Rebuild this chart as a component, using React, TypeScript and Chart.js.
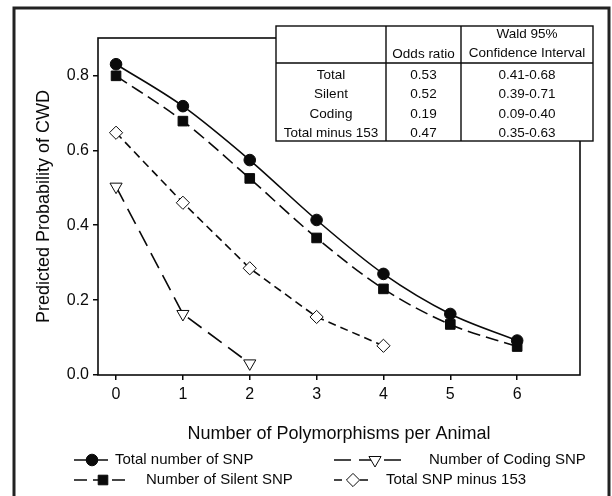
import React, { useEffect, useRef } from 'react';
import { Chart, registerables } from 'chart.js';

Chart.register(...registerables);

// ---- data ----
const xCategories = [0, 1, 2, 3, 4, 5, 6];
const totalSNP = [0.83, 0.718, 0.574, 0.414, 0.27, 0.163, 0.092];
const silentSNP = [0.799, 0.678, 0.525, 0.366, 0.23, 0.135, 0.076];
const totalMinus153 = [0.647, 0.46, 0.285, 0.155, 0.078];
const codingSNP = [0.503, 0.163, 0.031];

const xTickValues = [0, 1, 2, 3, 4, 5, 6];
const yTickValues = [0, 0.2, 0.4, 0.6, 0.8];

const seriesLabels = [
  'Total number of SNP',
  'Number of Silent SNP',
  'Total SNP minus 153',
  'Number of Coding SNP',
];

const tableRowLabels = ['Total', 'Silent', 'Coding', 'Total minus 153'];
const tableOddsRatios = ['0.53', '0.52', '0.19', '0.47'];
const tableIntervals = ['0.41-0.68', '0.39-0.71', '0.09-0.40', '0.35-0.63'];
const tableHeaderOdds = 'Odds ratio';
const tableHeaderWald = ['Wald 95%', 'Confidence Interval'];

const xTitle = 'Number of Polymorphisms per Animal';
const yTitle = 'Predicted Probability of CWD';

// ---- style ----
const FONT = '"Liberation Sans", Arial, Helvetica, sans-serif';
const INK = '#0a0a0a';

const toPoints = (vals: number[]) => vals.map((y, i) => ({ x: xCategories[i], y }));

function drawMarker(ctx: CanvasRenderingContext2D, shape: string, x: number, y: number, r: number, fill: string) {
  ctx.save();
  ctx.setLineDash([]);
  ctx.beginPath();
  if (shape === 'circle') {
    ctx.arc(x, y, r, 0, Math.PI * 2);
  } else if (shape === 'rect') {
    const s = Math.SQRT1_2 * r;
    ctx.rect(x - s, y - s, 2 * s, 2 * s);
  } else if (shape === 'rectRot') {
    ctx.moveTo(x - r, y);
    ctx.lineTo(x, y - r);
    ctx.lineTo(x + r, y);
    ctx.lineTo(x, y + r);
    ctx.closePath();
  } else if (shape === 'triangleDown') {
    const dx = Math.sin(Math.PI / 3) * r;
    ctx.moveTo(x - dx, y - r / 2);
    ctx.lineTo(x + dx, y - r / 2);
    ctx.lineTo(x, y + r);
    ctx.closePath();
  }
  ctx.fillStyle = fill;
  ctx.fill();
  ctx.lineWidth = 1;
  ctx.strokeStyle = INK;
  ctx.stroke();
  ctx.restore();
}

const decorPlugin = {
  id: 'decor',
  beforeDatasetsDraw(chart: any) {
    const { ctx, chartArea: a } = chart;
    ctx.save();
    ctx.strokeStyle = INK;
    ctx.lineWidth = 1.6;
    ctx.strokeRect(a.left, a.top, a.right - a.left, a.bottom - a.top);
    ctx.restore();
  },
  afterDraw(chart: any) {
    const { ctx } = chart;
    const ds = chart.data.datasets;
    ctx.save();

    // outer frame
    ctx.strokeStyle = '#222';
    ctx.lineWidth = 3;
    ctx.strokeRect(14, 8, 595, 500);

    // table
    const tl = 276, tr = 593, tt = 26, tb = 141;
    const c1 = 386, c2 = 461, hs = 63;
    ctx.fillStyle = '#fff';
    ctx.fillRect(tl, tt, tr - tl, tb - tt);
    ctx.strokeStyle = INK;
    ctx.lineWidth = 1.4;
    ctx.strokeRect(tl, tt, tr - tl, tb - tt);
    ctx.beginPath();
    ctx.moveTo(c1, tt); ctx.lineTo(c1, tb);
    ctx.moveTo(c2, tt); ctx.lineTo(c2, tb);
    ctx.moveTo(tl, hs); ctx.lineTo(tr, hs);
    ctx.stroke();

    ctx.fillStyle = INK;
    ctx.font = `13.5px ${FONT}`;
    ctx.textAlign = 'center';
    ctx.textBaseline = 'middle';
    ctx.fillText(tableHeaderOdds, (c1 + c2) / 2, 54);
    ctx.fillText(tableHeaderWald[0], (c2 + tr) / 2, 34);
    ctx.fillText(tableHeaderWald[1], (c2 + tr) / 2, 53);
    const rowYs = [75, 94.5, 114, 133];
    tableRowLabels.forEach((lab, i) => {
      ctx.fillText(lab, (tl + c1) / 2, rowYs[i]);
      ctx.fillText(tableOddsRatios[i], (c1 + c2) / 2, rowYs[i]);
      ctx.fillText(tableIntervals[i], (c2 + tr) / 2, rowYs[i]);
    });

    // legend
    const items = [
      { d: ds[0], shape: 'circle', x0: 74, x1: 108, mx: 92, y: 460, tx: 115, r: 5.8, fill: INK },
      { d: ds[1], shape: 'rect', x0: 74, x1: 126, mx: 103, y: 480, tx: 146, r: 6.8, fill: INK },
      { d: ds[2], shape: 'rectRot', x0: 334, x1: 370, mx: 353, y: 480, tx: 386, r: 6.6, fill: '#fff' },
      { d: ds[3], shape: 'triangleDown', x0: 334, x1: 402, mx: 375, y: 460, tx: 429, r: 7, fill: '#fff' },
    ];
    ctx.font = `15px ${FONT}`;
    ctx.textAlign = 'left';
    ctx.textBaseline = 'middle';
    items.forEach((it) => {
      ctx.save();
      ctx.strokeStyle = INK;
      ctx.lineWidth = 1.6;
      ctx.setLineDash(it.d.borderDash || []);
      ctx.beginPath();
      ctx.moveTo(it.x0, it.y);
      ctx.lineTo(it.x1, it.y);
      ctx.stroke();
      ctx.restore();
      drawMarker(ctx, it.shape, it.mx, it.y, it.r, it.fill);
      ctx.fillStyle = INK;
      ctx.fillText(it.d.label, it.tx, it.y);
    });

    ctx.restore();
  },
};

export default function App() {
  const canvasRef = useRef<HTMLCanvasElement | null>(null);

  useEffect(() => {
    if (!canvasRef.current) return;
    const chart = new Chart(canvasRef.current, {
      type: 'line',
      data: {
        datasets: [
          {
            label: seriesLabels[0],
            data: toPoints(totalSNP),
            borderColor: INK,
            borderWidth: 1.6,
            pointStyle: 'circle',
            pointRadius: 5.8,
            pointBackgroundColor: INK,
            pointBorderColor: INK,
            pointBorderWidth: 1,
            cubicInterpolationMode: 'monotone',
          },
          {
            label: seriesLabels[1],
            data: toPoints(silentSNP),
            borderColor: INK,
            borderWidth: 1.6,
            borderDash: [13, 6],
            pointStyle: 'rect',
            pointRadius: 6.8,
            pointBackgroundColor: INK,
            pointBorderColor: INK,
            pointBorderWidth: 1,
            cubicInterpolationMode: 'monotone',
          },
          {
            label: seriesLabels[2],
            data: toPoints(totalMinus153),
            borderColor: INK,
            borderWidth: 1.6,
            borderDash: [8, 5],
            pointStyle: 'rectRot',
            pointRadius: 6.6,
            pointBackgroundColor: '#fff',
            pointBorderColor: INK,
            pointBorderWidth: 1,
          },
          {
            label: seriesLabels[3],
            data: toPoints(codingSNP),
            borderColor: INK,
            borderWidth: 1.6,
            borderDash: [17, 8],
            pointStyle: 'triangle',
            pointRotation: 180,
            pointRadius: 7,
            pointBackgroundColor: '#fff',
            pointBorderColor: INK,
            pointBorderWidth: 1,
          },
        ],
      },
      options: {
        responsive: false,
        animation: false,
        events: [],
        layout: { padding: { left: 0, top: 38, right: 32, bottom: 51 } },
        plugins: {
          legend: { display: false },
          tooltip: { enabled: false },
        },
        scales: {
          x: {
            type: 'linear',
            min: -0.27,
            max: 6.94,
            afterBuildTicks: (s: any) => {
              s.ticks = xTickValues.map((v) => ({ value: v }));
            },
            afterFit: (s: any) => {
              s.height = 70;
            },
            border: { display: false },
            grid: { drawOnChartArea: false, drawTicks: true, tickLength: 5, color: INK, lineWidth: 1.5 },
            ticks: {
              font: { family: FONT, size: 16 },
              color: INK,
              padding: 5,
              maxRotation: 0,
              callback: (v: any) => String(v),
            },
            title: {
              display: true,
              text: xTitle,
              font: { family: FONT, size: 18 },
              color: INK,
              padding: { top: 5, bottom: 0 },
            },
          },
          y: {
            type: 'linear',
            min: 0,
            max: 0.9,
            afterBuildTicks: (s: any) => {
              s.ticks = yTickValues.map((v) => ({ value: v }));
            },
            afterFit: (s: any) => {
              s.width = 98;
            },
            border: { display: false },
            grid: { drawOnChartArea: false, drawTicks: true, tickLength: 5, color: INK, lineWidth: 1.5 },
            ticks: {
              font: { family: FONT, size: 16 },
              color: INK,
              padding: 4,
              callback: (v: any) => Number(v).toFixed(1),
            },
            title: {
              display: true,
              text: yTitle,
              font: { family: FONT, size: 18 },
              color: INK,
              padding: { top: 33, bottom: 0 },
            },
          },
        },
      } as any,
      plugins: [decorPlugin],
    });
    return () => chart.destroy();
  }, []);

  return (
    <div style={{ position: 'absolute', left: 0, top: 0, width: 612, height: 496, background: '#fff' }}>
      <canvas ref={canvasRef} width={612} height={496} style={{ display: 'block' }} />
    </div>
  );
}
